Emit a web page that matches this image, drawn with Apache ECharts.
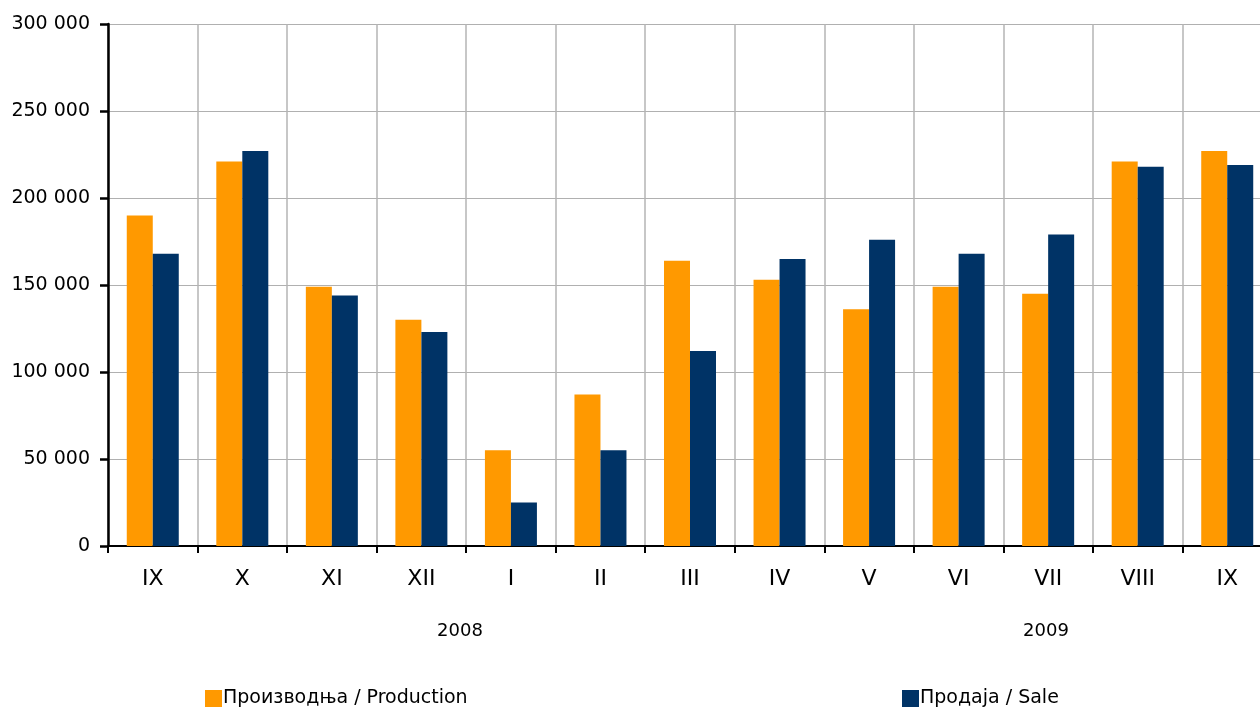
<!DOCTYPE html>
<html>
<head>
<meta charset="utf-8">
<script src="https://cdn.jsdelivr.net/npm/echarts@6/dist/echarts.min.js"></script>
<style>
html,body{margin:0;padding:0;overflow:hidden;background:#fff;}
#c{width:1280px;height:709px;}
</style>
</head>
<body>
<div id="c"></div>
<script>
const categories = ['IX','X','XI','XII','I','II','III','IV','V','VI','VII','VIII','IX'];
const production = [190000,221000,149000,130000,55000,87000,164000,153000,136000,149000,145000,221000,227000];
const sale = [168000,227000,144000,123000,25000,55000,112000,165000,176000,168000,179000,218000,219000];
const yearLabels = ['2008','2009'];
const seriesNames = ['Производња / Production','Продаја / Sale'];

const FONT = 'DejaVu Sans';
const chart = echarts.init(document.getElementById('c'), null, {renderer:'canvas'});
chart.setOption({
  animation:false,
  backgroundColor:'#fff',
  textStyle:{fontFamily:FONT,color:'#000'},
  grid:{left:108, top:24, width:1164, height:522, containLabel:false},
  legend:[
    {data:[seriesNames[0]], left:205, top:689, itemWidth:17, itemHeight:17, itemGap:0, icon:'rect',
     textStyle:{fontFamily:FONT,fontSize:19,color:'#000',padding:[0,0,0,-4]}, padding:0},
    {data:[seriesNames[1]], left:902, top:689, itemWidth:17, itemHeight:17, itemGap:0, icon:'rect',
     textStyle:{fontFamily:FONT,fontSize:19,color:'#000',padding:[0,0,0,-4]}, padding:0}
  ],
  xAxis:{
    type:'category', data:categories,
    axisLine:{show:true, lineStyle:{color:'#000', width:2}},
    axisTick:{show:true, alignWithLabel:false, length:7, lineStyle:{color:'#000', width:2}},
    axisLabel:{fontFamily:FONT, fontSize:22, color:'#000', margin:22},
    splitLine:{show:true, lineStyle:{color:'#b4b4b4', width:1.5}}
  },
  yAxis:{
    type:'value', min:0, max:300000, interval:50000,
    axisLine:{show:true, lineStyle:{color:'#000', width:2.5}},
    axisTick:{show:true, length:8, lineStyle:{color:'#000', width:2.5}},
    axisLabel:{fontFamily:FONT, fontSize:19, color:'#000', margin:18,
      formatter:v => String(v).replace(/\B(?=(\d{3})+(?!\d))/g,' ')},
    splitLine:{show:true, lineStyle:{color:'#b0b0b0', width:1.2}}
  },
  graphic:[
    {type:'text', left:null, x:460, y:631, style:{text:yearLabels[0], font:'18px "DejaVu Sans"', fill:'#000', textAlign:'center', textVerticalAlign:'middle'}},
    {type:'text', x:1046, y:631, style:{text:yearLabels[1], font:'18px "DejaVu Sans"', fill:'#000', textAlign:'center', textVerticalAlign:'middle'}}
  ],
  series:[
    {name:seriesNames[0], type:'bar', data:production, barWidth:26, barGap:'0%', itemStyle:{color:'#ff9900'}},
    {name:seriesNames[1], type:'bar', data:sale, barWidth:26, barGap:'0%', itemStyle:{color:'#003366'}}
  ]
});
</script>
</body>
</html>
